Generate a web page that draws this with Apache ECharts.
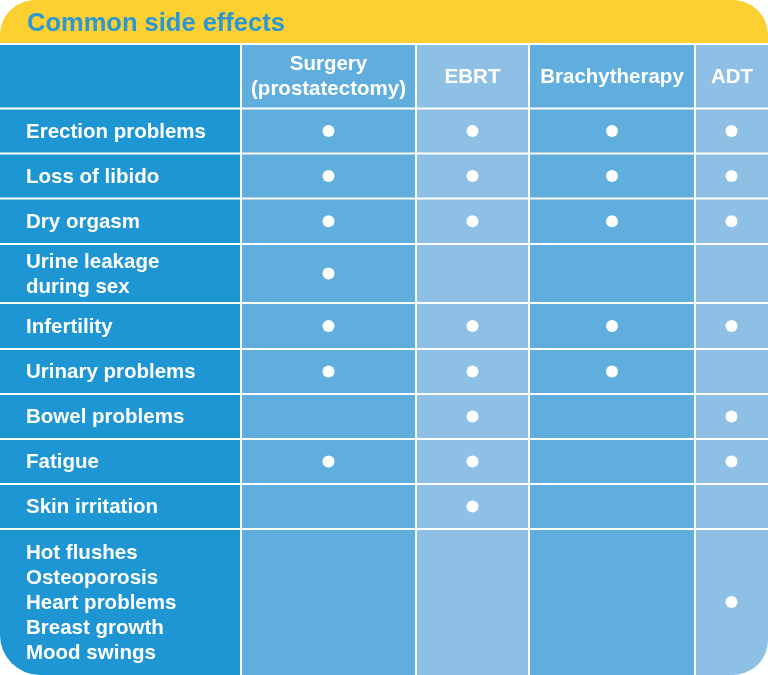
<!DOCTYPE html>
<html>
<head>
<meta charset="utf-8">
<script src="https://cdn.jsdelivr.net/npm/echarts@6/dist/echarts.min.js"></script>
<style>
html,body{margin:0;padding:0;background:#fff;}
#chart{width:768px;height:675px;}
</style>
</head>
<body>
<div id="chart"></div>
<script>
// ---- data ----
const title = 'Common side effects';
const treatments = ['Surgery\n(prostatectomy)', 'EBRT', 'Brachytherapy', 'ADT'];
const sideEffects = [
  'Erection problems',
  'Loss of libido',
  'Dry orgasm',
  'Urine leakage\nduring sex',
  'Infertility',
  'Urinary problems',
  'Bowel problems',
  'Fatigue',
  'Skin irritation',
  'Hot flushes\nOsteoporosis\nHeart problems\nBreast growth\nMood swings'
];
const surgery       = [1, 1, 1, 1, 1, 1, 0, 1, 0, 0];
const ebrt          = [1, 1, 1, 0, 1, 1, 1, 1, 1, 0];
const brachytherapy = [1, 1, 1, 0, 1, 1, 0, 0, 0, 0];
const adt           = [1, 1, 1, 0, 1, 0, 1, 1, 0, 1];
const marks = [surgery, ebrt, brachytherapy, adt];

// ---- layout (table units) ----
const colWidths = [241, 175, 113, 166, 73];          // label column + treatments
const titleHeight = 44;
const rowHeights = [64.5, 45, 45, 45.5, 59, 46, 45, 45, 45, 45, 146]; // header + rows
const colColors = ['#1E96D4', '#60AEDE', '#8EC0E6', '#60AEDE', '#8EC0E6'];
const yellow = '#FCD030';
const titleColor = '#2A98D4';
const FONT = '"Liberation Sans", Arial, sans-serif';

const colEdges = [0];
colWidths.forEach(w => colEdges.push(colEdges[colEdges.length - 1] + w));
const rowEdges = [titleHeight];
rowHeights.forEach(h => rowEdges.push(rowEdges[rowEdges.length - 1] + h));
const totalW = colEdges[colEdges.length - 1];
const totalH = rowEdges[rowEdges.length - 1];
const nCols = colWidths.length, nRows = rowHeights.length;

// cells: [col, row]; row 0 is header
const cells = [];
cells.push({kind: 'title'});
for (let r = 0; r < nRows; r++) {
  for (let c = 0; c < nCols; c++) {
    let text = '';
    if (r === 0 && c > 0) text = treatments[c - 1];
    if (r > 0 && c === 0) text = sideEffects[r - 1];
    cells.push({kind: 'cell', c, r, text});
  }
}

// dots
const dots = [];
marks.forEach((arr, ti) => {
  arr.forEach((v, ri) => {
    if (v) {
      const c = ti + 1, r = ri + 1;
      dots.push([(colEdges[c] + colEdges[c + 1]) / 2, (rowEdges[r] + rowEdges[r + 1]) / 2]);
    }
  });
});

const gap = 1;
function renderItem(params, api) {
  const d = cells[params.dataIndex];
  if (d.kind === 'title') {
    const p0 = api.coord([0, 0]);
    const p1 = api.coord([totalW, titleHeight - gap]);
    return {
      type: 'group',
      children: [
        {type: 'rect', shape: {x: p0[0], y: p0[1], width: p1[0] - p0[0], height: p1[1] - p0[1], r: [35, 35, 0, 0]},
         style: {fill: yellow}},
        {type: 'text', x: p0[0] + 27, y: (p0[1] + p1[1]) / 2 + 2,
         style: {text: title, fill: titleColor, font: 'bold 25.5px ' + FONT, align: 'left', verticalAlign: 'middle'}}
      ]
    };
  }
  const {c, r, text} = d;
  const x0 = colEdges[c] === 0 ? 0 : colEdges[c] + gap;
  const x1 = colEdges[c + 1] === totalW ? totalW : colEdges[c + 1] - gap;
  const y0 = rowEdges[r] + gap;
  const y1 = rowEdges[r + 1] === totalH ? totalH : rowEdges[r + 1] - gap;
  const p0 = api.coord([x0, y0]);
  const p1 = api.coord([x1, y1]);
  let rad = [0, 0, 0, 0];
  if (r === nRows - 1 && c === 0) rad = [0, 0, 0, 40];
  if (r === nRows - 1 && c === nCols - 1) rad = [0, 0, 35, 0];
  const children = [
    {type: 'rect', shape: {x: p0[0], y: p0[1], width: p1[0] - p0[0], height: p1[1] - p0[1], r: rad},
     style: {fill: colColors[c]}}
  ];
  if (text) {
    const isLabel = c === 0;
    children.push({
      type: 'text',
      x: isLabel ? p0[0] + 26 : (p0[0] + p1[0]) / 2,
      y: (p0[1] + p1[1]) / 2 + 1,
      style: {text, fill: '#fff', font: 'bold 20.5px ' + FONT, align: isLabel ? 'left' : 'center',
              verticalAlign: 'middle', lineHeight: 25}
    });
  }
  return {type: 'group', children};
}

const chart = echarts.init(document.getElementById('chart'), null, {renderer: 'canvas'});
chart.setOption({
  animation: false,
  backgroundColor: '#ffffff',
  grid: {left: 0, right: 0, top: 0, bottom: 0},
  xAxis: {type: 'value', min: 0, max: totalW, show: false},
  yAxis: {type: 'value', min: 0, max: totalH, inverse: true, show: false},
  series: [
    {
      type: 'custom',
      renderItem,
      data: cells.map((d, i) => [i]),
      silent: true
    },
    {
      type: 'scatter',
      data: dots,
      symbol: 'circle',
      symbolSize: 12,
      itemStyle: {color: '#ffffff', opacity: 1},
      silent: true,
      z: 5
    }
  ]
});
</script>
</body>
</html>
